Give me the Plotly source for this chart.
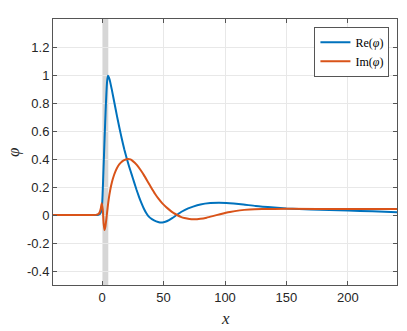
import plotly.graph_objects as go

# Re(phi) samples
re_x = [-40, -10, -5, -3, -2, -1, 0, 1, 2, 3, 4, 4.7, 6, 8, 10, 12, 14, 16, 18, 20, 22, 24, 26, 28, 30,
        32, 34, 36, 38, 40.5, 44, 47, 50, 53, 57, 60.7, 65, 70, 74, 80, 88, 95, 101, 107, 115, 125, 140,
        150, 170, 200, 220, 240]
re_y = [0, 0, 0, 0.002, 0.005, 0.02, 0.08, 0.3, 0.55, 0.78, 0.95, 0.995, 0.97, 0.89, 0.8, 0.71, 0.625,
        0.545, 0.47, 0.405, 0.345, 0.29, 0.235, 0.18, 0.13, 0.085, 0.045, 0.013, -0.012, -0.03, -0.046,
        -0.053, -0.052, -0.043, -0.022, 0.0, 0.025, 0.047, 0.06, 0.075, 0.085, 0.088, 0.086, 0.082,
        0.075, 0.064, 0.053, 0.047, 0.04, 0.032, 0.026, 0.019]

# Im(phi) samples
im_x = [-40, -8, -5, -3, -2, -1, -0.3, 0.5, 1.2, 1.9, 2.6, 3.2, 3.8, 4.5, 5.3, 6.5, 8, 9.5, 11, 13,
        15, 17.5, 20.8, 23, 25, 28, 31, 34, 37, 40, 43, 46, 49, 52, 55, 58, 61, 64, 67, 71, 75, 80, 85,
        90, 96, 104, 112, 120, 130, 150, 200, 240]
im_y = [0, 0, 0.001, 0.008, 0.02, 0.05, 0.084, 0.04, -0.06, -0.108, -0.085, -0.045, 0.0, 0.055, 0.11,
        0.175, 0.235, 0.28, 0.315, 0.35, 0.372, 0.39, 0.4, 0.397, 0.385, 0.36, 0.325, 0.285, 0.24, 0.195,
        0.152, 0.115, 0.083, 0.057, 0.035, 0.015, 0.0, -0.013, -0.022, -0.029, -0.031, -0.027, -0.019,
        -0.008, 0.006, 0.022, 0.033, 0.039, 0.042, 0.044, 0.043, 0.043]

band = [0, 5]
x_ticks = [0, 50, 100, 150, 200]
y_ticks = [-0.4, -0.2, 0, 0.2, 0.4, 0.6, 0.8, 1, 1.2]
y_ticktext = ["-0.4", "-0.2", "0", "0.2", "0.4", "0.6", "0.8", "1", "1.2"]

fig = go.Figure()
fig.add_shape(type="rect", xref="x", yref="paper", x0=band[0], x1=band[1], y0=0, y1=1,
              fillcolor="#d6d6d6", line_width=0, layer="below")
fig.add_trace(go.Scatter(x=re_x, y=re_y, mode="lines", name="Re(<i>φ</i>)",
                         line=dict(color="#0072BD", width=2, shape="spline", smoothing=0.5)))
fig.add_trace(go.Scatter(x=im_x, y=im_y, mode="lines", name="Im(<i>φ</i>)",
                         line=dict(color="#D95319", width=2, shape="spline", smoothing=0.5)))

axis_common = dict(showline=True, linecolor="#555555", linewidth=1, mirror="ticks",
                   ticks="inside", ticklen=4, tickcolor="#555555", automargin=False,
                   showgrid=True, gridcolor="#e8e8e8", gridwidth=1, zeroline=False,
                   tickfont=dict(family="Liberation Sans, Arial", size=13, color="#262626"))

fig.update_xaxes(range=[-40, 240], tickvals=x_ticks, **axis_common)
fig.update_yaxes(range=[-0.5, 1.4], tickvals=y_ticks, ticktext=y_ticktext, **axis_common)

title_font = dict(family="Liberation Serif, serif", size=17, color="#262626")
fig.add_annotation(text="<i>x</i>", xref="paper", yref="paper", x=0.5, y=-33 / 266,
                   showarrow=False, xanchor="center", yanchor="middle", font=title_font)
fig.add_annotation(text="<i>φ</i>", xref="paper", yref="paper", x=-40 / 344, y=(285 - 153) / 266,
                   showarrow=False, xanchor="center", yanchor="middle", textangle=-90, font=title_font)

fig.update_layout(
    width=407, height=331,
    margin=dict(l=53, r=10, t=19, b=46, autoexpand=False),
    plot_bgcolor="white", paper_bgcolor="white",
    legend=dict(x=0.978, y=0.971, xanchor="right", yanchor="top",
                bgcolor="white", bordercolor="#555555", borderwidth=1,
                font=dict(family="Liberation Serif, serif", size=12, color="#000000"),
                tracegroupgap=0, itemwidth=30),
    showlegend=True,
)

fig.write_html("out.html", config={"displayModeBar": False},
               post_script="document.body.style.margin='0';")
